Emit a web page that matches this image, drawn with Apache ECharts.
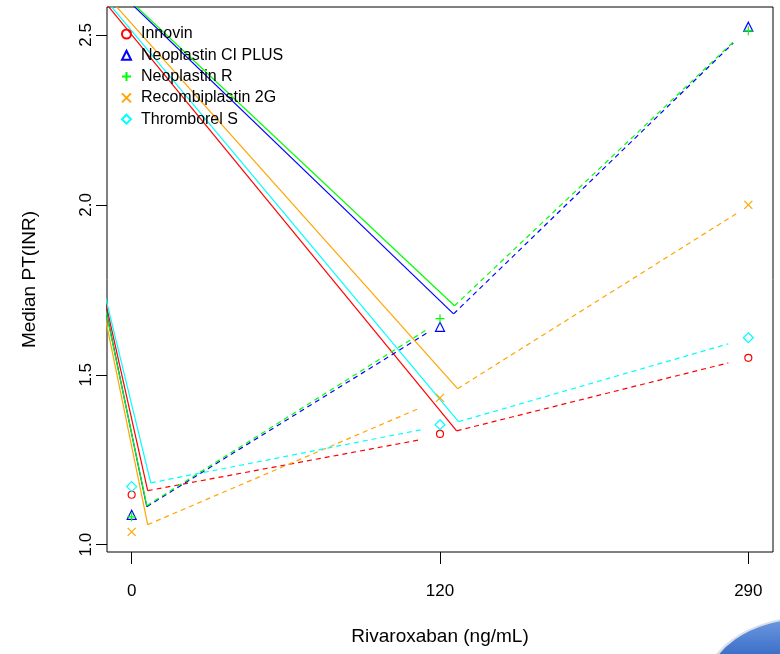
<!DOCTYPE html>
<html>
<head>
<meta charset="utf-8">
<script src="https://cdn.jsdelivr.net/npm/echarts@6/dist/echarts.min.js"></script>
<style>
html,body{margin:0;padding:0;background:#fff;}
#chart{width:780px;height:654px;}
</style>
</head>
<body>
<div id="chart"></div>
<script>
// ---- data ----
const tickLabels = ['0', '120', '290'];
const tickPos = [1, 2, 3];
const yTicks = [1.0, 1.5, 2.0, 2.5];
const seriesNames = ['Innovin', 'Neoplastin CI PLUS', 'Neoplastin R', 'Recombiplastin 2G', 'Thromborel S'];
const colors = ['#FF0000', '#0000FF', '#00FF00', '#FFA500', '#00FFFF'];

// median PT (INR) at 0, 120, 290 ng/mL
const innovin   = [1.147, 1.326, 1.550];
const neoCIPlus = [1.088, 1.641, 2.524];
const neoR      = [1.082, 1.665, 2.512];
const recombi   = [1.038, 1.432, 2.000];
const thromb    = [1.171, 1.353, 1.609];

// solid segments (start, end) in axis units, as drawn
const innovinSolid   = [[[0.9157, 1.712], [1.052, 1.159]], [[0.907, 2.603], [2.054, 1.335]]];
const neoCIPlusSolid = [[[0.9157, 1.695], [1.049, 1.112]], [[0.986, 2.603], [2.044, 1.679]]];
const neoRSolid      = [[[0.9157, 1.691], [1.049, 1.115]], [[0.992, 2.603], [2.047, 1.703]]];
const recombiSolid   = [[[0.9157, 1.662], [1.052, 1.059]], [[0.931, 2.603], [2.057, 1.459]]];
const thrombSolid    = [[[0.9157, 1.726], [1.062, 1.182]], [[0.916, 2.603], [2.060, 1.362]]];

// dashed segments (start, end) in axis units, as drawn
const innovinDash   = [[[1.052, 1.159], [1.937, 1.309]], [[2.054, 1.335], [2.935, 1.535]]];
const neoCIPlusDash = [[[1.049, 1.112], [1.963, 1.626]], [[2.044, 1.679], [2.951, 2.476]]];
const neoRDash      = [[[1.049, 1.115], [1.956, 1.632]], [[2.047, 1.703], [2.951, 2.479]]];
const recombiDash   = [[[1.052, 1.059], [1.937, 1.403]], [[2.057, 1.459], [2.961, 1.974]]];
const thrombDash    = [[[1.062, 1.182], [1.937, 1.338]], [[2.060, 1.362], [2.935, 1.591]]];

const values = [innovin, neoCIPlus, neoR, recombi, thromb];
const solids = [innovinSolid, neoCIPlusSolid, neoRSolid, recombiSolid, thrombSolid];
const dashes = [innovinDash, neoCIPlusDash, neoRDash, recombiDash, thrombDash];

const PLUS = 'path://M5,0L5,10M0,5L10,5';
const CROSS = 'path://M0,0L10,10M10,0L0,10';
const symbols = ['circle', 'triangle', PLUS, CROSS, 'diamond'];
const symbolSizes = [7, 9, 9, 8, 10];

const FONT = "'Liberation Sans', Arial, Helvetica, sans-serif";

const series = [];
seriesNames.forEach((name, i) => {
  solids[i].forEach((seg, k) => {
    series.push({
      name: name + ' solid ' + k, type: 'line', data: seg, symbol: 'none', silent: true,
      clip: true, z: 2,
      lineStyle: { color: colors[i], width: 1.2, type: 'solid' }
    });
  });
  dashes[i].forEach((seg, k) => {
    series.push({
      name: name + ' dash ' + k, type: 'line', data: seg, symbol: 'none', silent: true,
      clip: true, z: 2,
      lineStyle: { color: colors[i], width: 1.2, type: [5, 4] }
    });
  });
  series.push({
    name: name, type: 'scatter', z: 3,
    data: tickPos.map((x, j) => [x, values[i][j]]),
    symbol: symbols[i], symbolSize: symbolSizes[i],
    itemStyle: { color: 'rgba(0,0,0,0)', borderColor: colors[i], borderWidth: 1.2, opacity: 1 }
  });
});

const chart = echarts.init(document.getElementById('chart'), null, { renderer: 'canvas' });
chart.setOption({
  animation: false,
  backgroundColor: '#ffffff',
  grid: { left: 107, right: 7, top: 7, bottom: 102, show: true, borderColor: '#000', borderWidth: 1, backgroundColor: 'rgba(0,0,0,0)' },
  legend: {
    orient: 'vertical', left: 116, top: 21, itemWidth: 9, itemHeight: 9, itemGap: 5.3,
    selectedMode: false,
    textStyle: { fontFamily: FONT, fontSize: 16, color: '#000', lineHeight: 16, padding: [0, 0, 0, 5] },
    data: seriesNames.map((n, i) => ({ name: n, icon: symbols[i] }))
  },
  xAxis: {
    type: 'value', min: 0.92, max: 3.08,
    name: 'Rivaroxaban (ng/mL)', nameLocation: 'middle', nameGap: 75,
    nameTextStyle: { fontFamily: FONT, fontSize: 19, color: '#000' },
    axisLine: { show: false },
    splitLine: { show: false },
    axisTick: { show: true, inside: false, length: 12, customValues: tickPos, lineStyle: { color: '#000', width: 1 } },
    axisLabel: { customValues: tickPos, margin: 31, fontFamily: FONT, fontSize: 17, color: '#000',
      formatter: v => { const j = tickPos.indexOf(Math.round(v)); return j >= 0 ? tickLabels[j] : ''; } }
  },
  yAxis: {
    type: 'value', min: 0.9786, max: 2.582,
    name: 'Median PT(INR)', nameLocation: 'middle', nameGap: 68, nameRotate: 90,
    nameTextStyle: { fontFamily: FONT, fontSize: 19, color: '#000' },
    axisLine: { show: false },
    splitLine: { show: false },
    axisTick: { show: true, inside: false, length: 11, customValues: yTicks, lineStyle: { color: '#000', width: 1 } },
    axisLabel: { customValues: yTicks, rotate: 90, margin: 12, fontFamily: FONT, fontSize: 17, color: '#000',
      formatter: v => v.toFixed(1) }
  },
  graphic: [{
    type: 'circle', x: 805, y: 690, scaleX: 1.4, scaleY: 1, silent: true, z: 0,
    shape: { cx: 0, cy: 0, r: 72 },
    style: {
      fill: { type: 'linear', x: 0, y: 0, x2: 0, y2: 1, colorStops: [
        { offset: 0, color: '#6f9be0' }, { offset: 0.35, color: '#2a5fc0' }, { offset: 1, color: '#0d2f80' }] },
      stroke: '#d8e0ea', lineWidth: 2
    }
  }],
  series: series
});
</script>
</body>
</html>
